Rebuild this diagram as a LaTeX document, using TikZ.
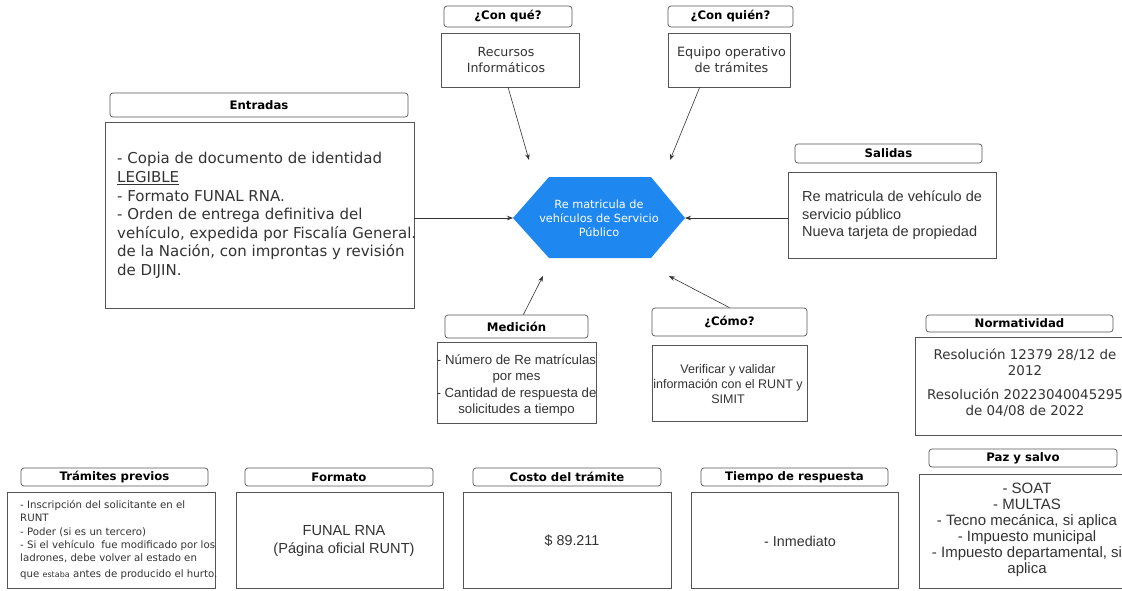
\documentclass[tikz,border=0pt]{standalone}
\usepackage{fontspec}
\setmainfont{DejaVu Sans}
\newfontfamily\arial{Liberation Sans}
\usetikzlibrary{arrows.meta}
\definecolor{edge}{HTML}{555555}
\definecolor{ink}{HTML}{333333}
\definecolor{hexblue}{HTML}{1E88F0}
\newcommand\fsz[2]{\fontsize{#1}{#2}\selectfont}
\begin{document}
\begin{tikzpicture}[x=1pt,y=-1pt,
  hdr/.style={draw=edge, line width=0.7pt, rounded corners=3pt, inner sep=0pt, font=\bfseries\fsz{11.7}{14}, text=black},
  box/.style={draw=edge, line width=0.7pt, inner sep=0pt},
  txt/.style={inner sep=0pt, text=ink, align=center},
  arr/.style={draw=ink, line width=0.6pt, -{Stealth[length=6pt,width=4.5pt]}}]
\useasboundingbox[fill=white] (0,0) rectangle (1122,590);

% headers
\node[hdr, minimum width=128pt, minimum height=21pt] (hq) at (508,16.5) {¿Con qué?};
\node[hdr, minimum width=125pt, minimum height=21pt] (hqn) at (730.5,16.5) {¿Con quién?};
\node[hdr, minimum width=298pt, minimum height=24pt] (hent) at (259,105) {Entradas};
\node[hdr, minimum width=187pt, minimum height=19pt] (hsal) at (888.5,153.5) {Salidas};
\node[hdr, minimum width=143pt, minimum height=23pt] (hmed) at (516.5,326.5) {Medición};
\node[hdr, minimum width=155pt, minimum height=28pt] (hcom) at (729.5,322) {¿Cómo?};
\node[hdr, minimum width=187pt, minimum height=17pt] (hnor) at (1019.5,323.5) {Normatividad};
\node[hdr, minimum width=187pt, minimum height=18pt] (htp) at (114.5,477) {Trámites previos};
\node[hdr, minimum width=188pt, minimum height=18pt] (hfor) at (339,477) {Formato};
\node[hdr, minimum width=188pt, minimum height=18pt] (hcos) at (567,477) {Costo del trámite};
\node[hdr, minimum width=187pt, minimum height=18pt] (htie) at (794.5,477) {Tiempo de respuesta};
\node[hdr, minimum width=188pt, minimum height=18pt] (hpaz) at (1023,458) {Paz y salvo};

% boxes
\node[box, minimum width=138pt, minimum height=54pt] (bq) at (510,60) {};
\node[box, minimum width=122pt, minimum height=54pt] (bqn) at (729,60) {};
\node[box, minimum width=309pt, minimum height=186pt] (bent) at (259.5,215) {};
\node[box, minimum width=208pt, minimum height=86pt] (bsal) at (892,215) {};
\node[box, minimum width=159pt, minimum height=81pt] (bmed) at (516.5,382.5) {};
\node[box, minimum width=155pt, minimum height=76pt] (bcom) at (729.5,383) {};
\node[box, minimum width=209pt, minimum height=98pt] (bnor) at (1019.5,386) {};
\node[box, minimum width=208pt, minimum height=96pt] (btp) at (111,540) {};
\node[box, minimum width=207pt, minimum height=96pt] (bfor) at (339.5,540) {};
\node[box, minimum width=208pt, minimum height=96pt] (bcos) at (567,540) {};
\node[box, minimum width=207pt, minimum height=96pt] (btie) at (794.5,540) {};
\node[box, minimum width=205pt, minimum height=114pt] (bpaz) at (1021.5,531) {};

% texts
\node[txt, font=\fsz{12.6}{16}] (tq) at (506,60) {Recursos\\Informáticos};
\node[txt, font=\fsz{12.8}{16}] (tqn) at (731.5,60) {Equipo operativo\\de trámites};
\node[txt, align=left, anchor=west, font=\fsz{15}{18.6}] (tent) at (117,215.5) {- Copia de documento de identidad\\\underline{LEGIBLE}\\- Formato FUNAL RNA.\\- Orden de entrega definitiva del\\vehículo, expedida por Fiscalía General.\\de la Nación, con improntas y revisión\\de DIJIN.};
\node[txt, align=left, anchor=west, font=\arial\fsz{14.5}{17.5}] (tsal) at (802,215.5) {Re matricula de vehículo de\\servicio público\\Nueva tarjeta de propiedad};
\node[txt, font=\arial\fsz{13.25}{16.3}] (tmedt) at (516.5,385.5) {- Número de Re matrículas\\por mes\\- Cantidad de respuesta de\\solicitudes a tiempo};
\node[txt, font=\arial\fsz{12.5}{15}] (tcomt) at (728,384) {Verificar y validar\\información con el RUNT y\\SIMIT};
\node[txt, font=\fsz{13.4}{15.5}] (tnor) at (1025,383) {Resolución 12379 28/12 de\\2012\\[9pt]Resolución 20223040045295\\de 04/08 de 2022};
\node[txt, align=left, anchor=west, font=\fsz{10.2}{13.3}] (ttp) at (20,540) {- Inscripción del solicitante en el\\RUNT\\- Poder (si es un tercero)\\- Si el vehículo\ \ fue modificado por los\\ladrones, debe volver al estado en\\[2.5pt]que {\fsz{8}{9}estaba} antes de producido el hurto.};
\node[txt, font=\arial\fsz{14.6}{18}] (tfor) at (344,541) {FUNAL RNA\\(Página oficial RUNT)};
\node[txt, font=\arial\fsz{14.3}{17}] (tcos) at (572,541) {\$ 89.211};
\node[txt, font=\arial\fsz{14.3}{17}] (ttie) at (800,541) {- Inmediato};
\node[txt, font=\arial\fsz{15}{16}] (tpaz) at (1027,529.5) {- SOAT\\- MULTAS\\- Tecno mecánica, si aplica\\- Impuesto municipal\\- Impuesto departamental, si\\aplica};

% hexagon
\coordinate (hexL) at (513,218);
\coordinate (hexR) at (685,218);
\fill[hexblue] (hexL) -- (549,177) -- (651,177) -- (hexR) -- (651,258) -- (549,258) -- cycle;
\node[txt, text=white, font=\fsz{11.3}{14}] (hex) at (599,218) {Re matricula de\\vehículos de Servicio\\Público};

% arrow targets
\coordinate (aq) at (529,160);
\coordinate (aqn) at (670,160);
\coordinate (amed) at (543,276);
\coordinate (acom) at (669,276);

\draw[arr] (bq.266) -- (aq);
\draw[arr] (bqn.223) -- (aqn);
\draw[arr] (hmed.60) -- (amed);
\draw[arr] (hcom.north) -- (acom);
\draw[arr] (bent.east |- hexL) -- (hexL);
\draw[arr] (bsal.west |- hexR) -- (hexR);
\end{tikzpicture}
\end{document}
